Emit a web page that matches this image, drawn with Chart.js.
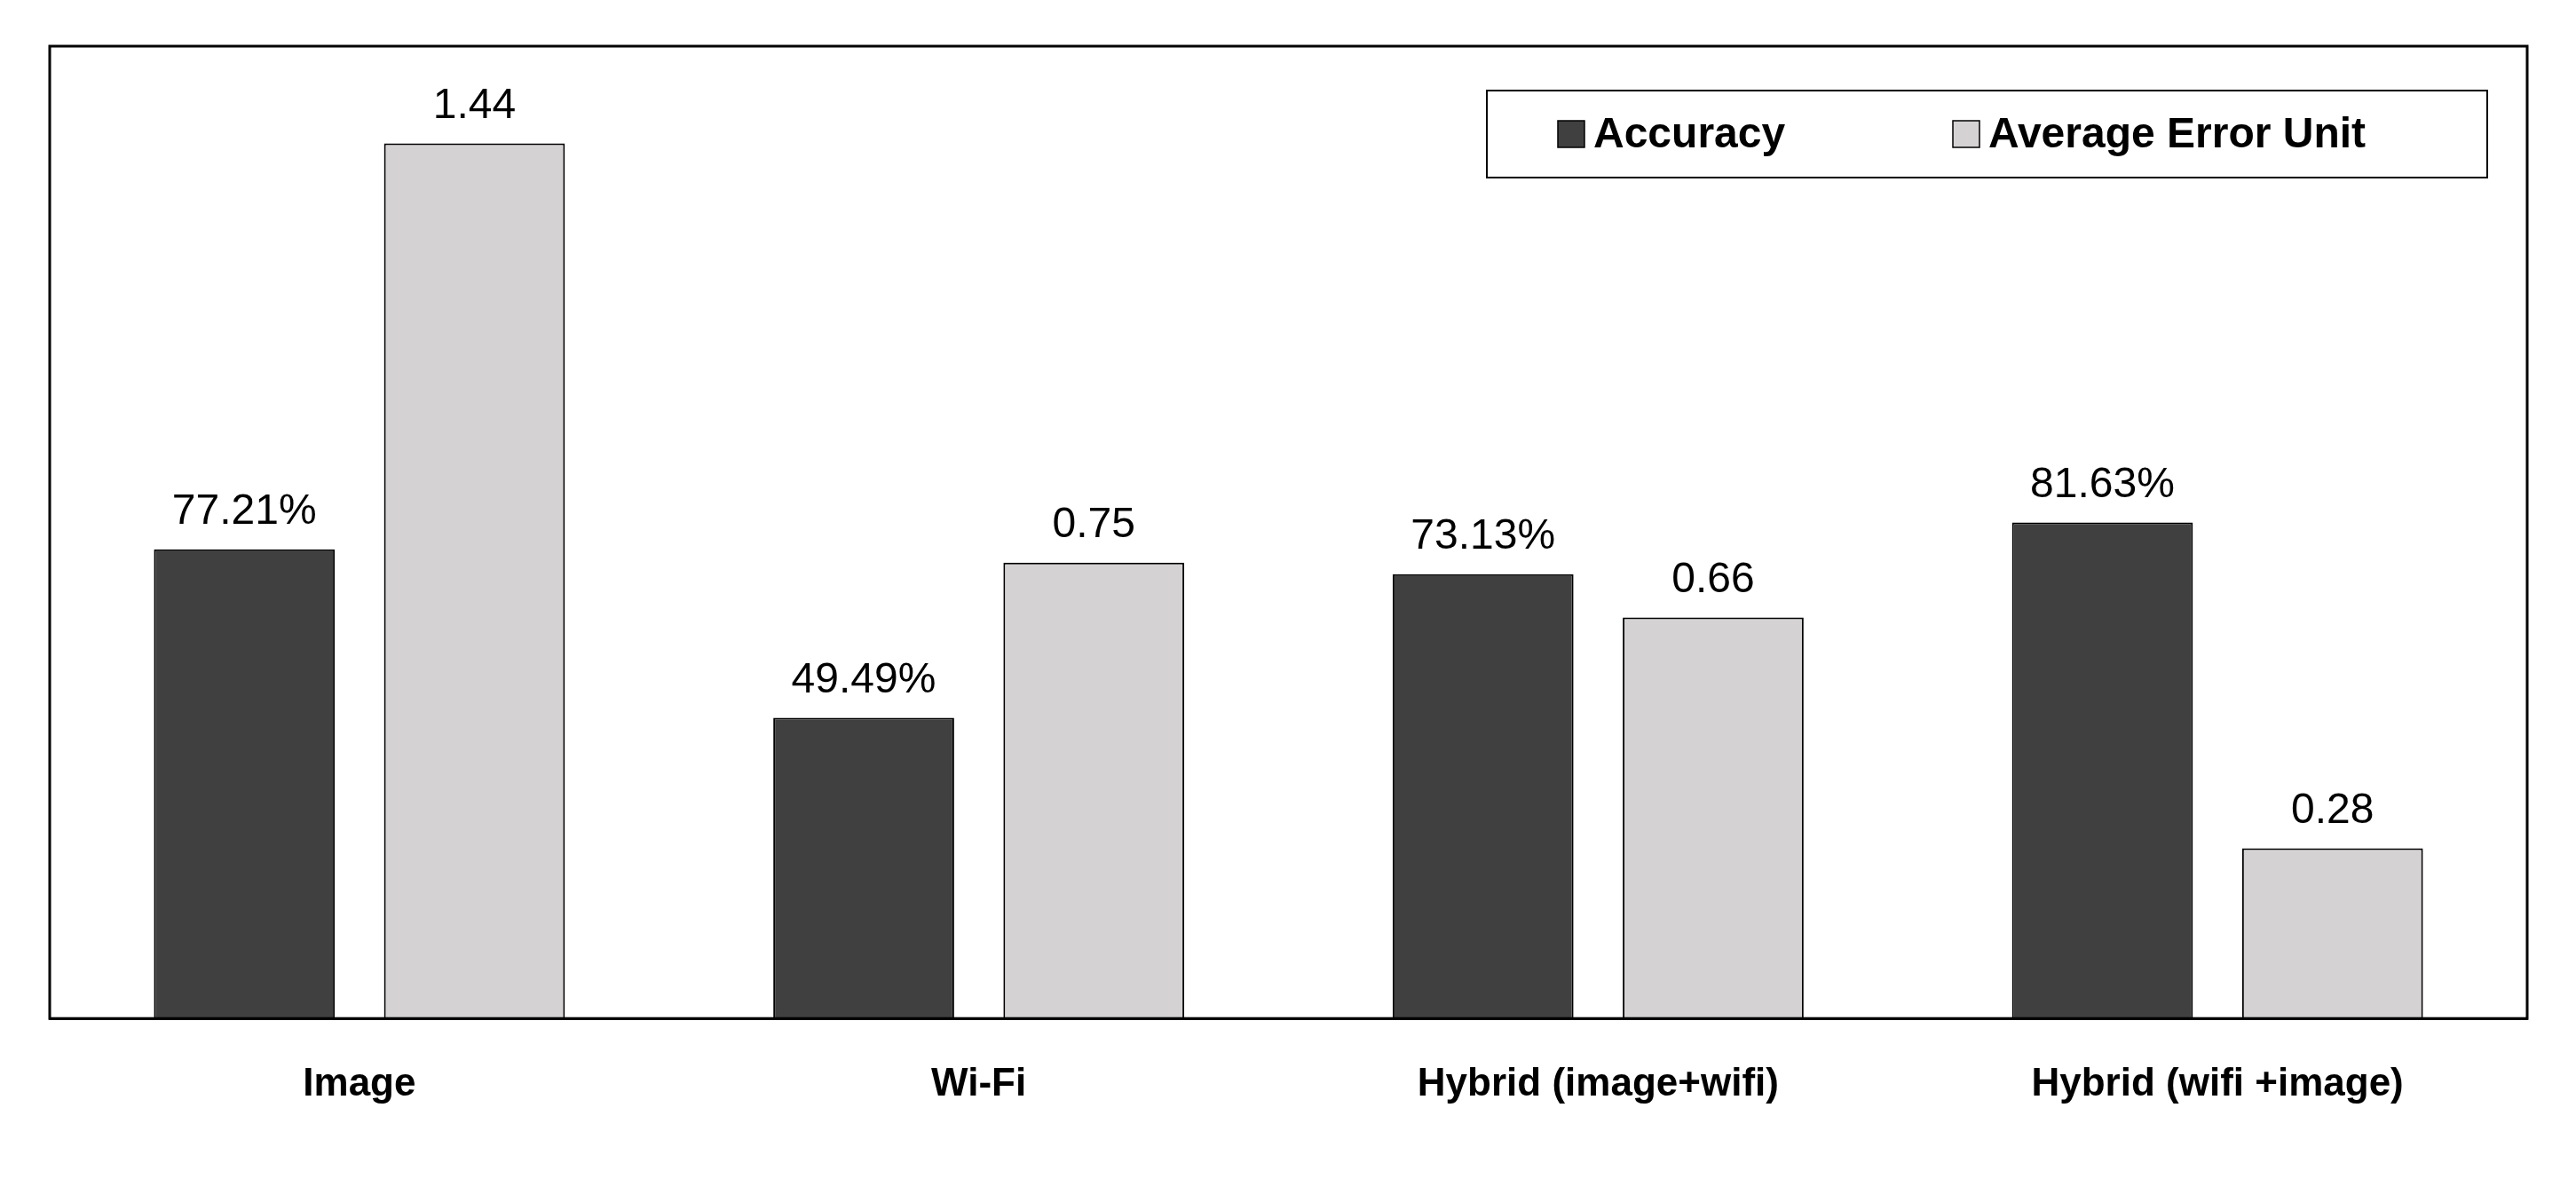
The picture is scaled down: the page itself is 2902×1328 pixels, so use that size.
<!DOCTYPE html>
<html><head><meta charset="utf-8">
<script src="https://cdn.jsdelivr.net/npm/chart.js@4/dist/chart.umd.min.js"></script>
<style>html,body{margin:0;padding:0;background:#fff}#w{width:2902px;height:1328px}</style>
</head><body><div id="w"><canvas id="c"></canvas></div>
<script>
const categories = ["Image", "Wi-Fi", "Hybrid (image+wifi)", "Hybrid (wifi +image)"];
const accuracy = [77.21, 49.49, 73.13, 81.63];
const avgError = [1.44, 0.75, 0.66, 0.28];
const accuracyLabels = ["77.21%", "49.49%", "73.13%", "81.63%"];
const errorLabels = ["1.44", "0.75", "0.66", "0.28"];
const seriesNames = ["Accuracy", "Average Error Unit"];
const FONT = "Arial, 'Liberation Sans', sans-serif";

const deco = {
  id: 'deco',
  afterDatasetsDraw(chart) {
    const ctx = chart.ctx, a = chart.chartArea;
    ctx.save();
    ctx.strokeStyle = '#000'; ctx.lineWidth = 3;
    ctx.strokeRect(a.left, a.top, a.right - a.left, a.bottom - a.top);
    ctx.fillStyle = '#000';
    ctx.font = '48px ' + FONT;
    ctx.textAlign = 'center'; ctx.textBaseline = 'bottom';
    const labs = [accuracyLabels, errorLabels];
    chart.data.datasets.forEach((ds, i) => {
      chart.getDatasetMeta(i).data.forEach((b, j) => {
        ctx.fillText(labs[i][j], b.x, b.y - 18);
      });
    });
    // legend
    const lx = 1675, ly = 102, lw = 1127, lh = 98;
    ctx.fillStyle = '#fff'; ctx.fillRect(lx, ly, lw, lh);
    ctx.lineWidth = 2; ctx.strokeStyle = '#000'; ctx.strokeRect(lx, ly, lw, lh);
    ctx.font = 'bold 48px ' + FONT; ctx.textAlign = 'left'; ctx.textBaseline = 'middle';
    const cols = ['#404040', '#d4d2d2'];
    const xs = [1755, 2200];
    seriesNames.forEach((n, i) => {
      ctx.fillStyle = cols[i]; ctx.fillRect(xs[i], ly + lh/2 - 15, 30, 30);
      ctx.strokeStyle = '#000'; ctx.lineWidth = 1.5; ctx.strokeRect(xs[i], ly + lh/2 - 15, 30, 30);
      ctx.fillStyle = '#000'; ctx.fillText(n, xs[i] + 40, ly + lh/2 + 2);
    });
    ctx.restore();
  }
};

new Chart(document.getElementById('c'), {
  type: 'bar',
  data: {
    labels: categories,
    datasets: [
      { label: seriesNames[0], data: accuracy, yAxisID: 'y', backgroundColor: '#404040', borderColor: '#000', borderWidth: 2, borderSkipped: 'bottom', categoryPercentage: 0.743, barPercentage: 0.786 },
      { label: seriesNames[1], data: avgError, yAxisID: 'y2', backgroundColor: '#d4d2d2', borderColor: '#000', borderWidth: 2, borderSkipped: 'bottom', categoryPercentage: 0.743, barPercentage: 0.786 }
    ]
  },
  options: {
    responsive: true, maintainAspectRatio: false, animation: false,
    layout: { padding: { left: 56, right: 55, top: 52, bottom: 40 } },
    plugins: { legend: { display: false }, tooltip: { enabled: false } },
    scales: {
      x: { grid: { display: false }, border: { color: '#000', width: 3 },
           ticks: { color: '#000', font: { family: FONT, size: 44, weight: 'bold' }, padding: 40 } },
      y: { display: false, min: 0, max: 160 },
      y2: { display: false, min: 0, max: 1.6 }
    }
  },
  plugins: [deco]
});
</script></body></html>
